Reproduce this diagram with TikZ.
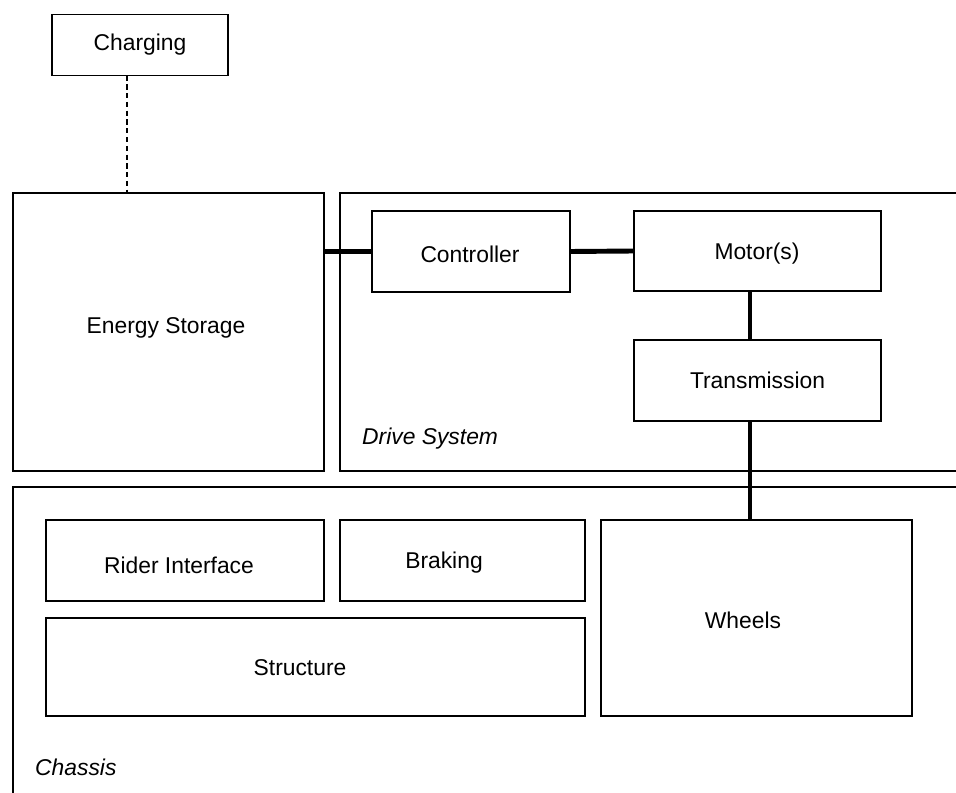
\documentclass[tikz,border=0pt]{standalone}
\usepackage{fontspec}
\setmainfont{Liberation Sans}

\begin{document}
\begin{tikzpicture}[x=0.02cm, y=-0.02cm, font=\fontsize{13}{15}\selectfont,
    part/.style={draw, line width=1.1pt, inner sep=0pt, outer sep=0pt},
    link/.style={line width=2.8pt}]
                \clip (0,0) rectangle (956,793);
                \fill[white] (0,0) rectangle (956,793);

                % containers, running off the right and bottom edges
                \node[part, minimum width=13.2cm, minimum height=5.56cm] (drive) at (670,332) {};
                \node[part, minimum width=19.74cm, minimum height=6.66cm] (chassis) at (506.5,653.5) {};

                \node[part, minimum width=3.52cm, minimum height=1.22cm] (charging) at (140,45) {Charging};
                \node[part, minimum width=6.22cm, minimum height=5.56cm] (storage) at (168.5,332) {};
                \node (storagetext) at (166,328) {Energy Storage};
                \node[part, minimum width=3.96cm, minimum height=1.62cm] (controller) at (471,251.5) {};
                \node (controllertext) at (470,254) {Controller};
                \node[part, minimum width=4.94cm, minimum height=1.6cm] (motor) at (757.5,251) {};
                \node (motortext) at (757,254) {Motor(s)};
                \node[part, minimum width=4.94cm, minimum height=1.62cm] (transmission) at (757.5,380.5) {Transmission};

                \node[part, minimum width=5.56cm, minimum height=1.62cm] (rider) at (185,560.5) {};
                \node (ridertext) at (179,565) {Rider Interface};
                \node[part, minimum width=4.9cm, minimum height=1.62cm] (braking) at (462.5,560.5) {};
                \node (brakingtext) at (444,563) {Braking};
                \node[part, minimum width=10.78cm, minimum height=1.96cm] (structure) at (315.5,667) {};
                \node (structuretext) at (300,668) {Structure};
                \node[part, minimum width=6.22cm, minimum height=3.92cm] (wheels) at (756.5,618) {};
                \node (wheelstext) at (743,620) {Wheels};

                \node[anchor=west, font=\fontsize{13}{15}\selectfont\itshape] (drivelabel) at (356,439) {Drive System};
                \node[anchor=west, font=\fontsize{13}{15}\selectfont\itshape] (chassislabel) at (29,767) {Chassis};

                \draw[line width=1.5pt, dash pattern=on 3pt off 2pt] ([xshift=-0.26cm]charging.south) -- ([xshift=-0.26cm]charging.south |- storage.north);

                \draw[link] (controller.west) -- (controller.west -| storage.east);
                \draw[link] (controller.east) -- (motor.west);
                \draw[link] ([xshift=-0.15cm]motor.south) -- ([xshift=-0.15cm]transmission.north);
                \draw[link] ([xshift=-0.15cm]transmission.south) -- ([xshift=-0.15cm]transmission.south |- wheels.north);
            \end{tikzpicture}
\end{document}
